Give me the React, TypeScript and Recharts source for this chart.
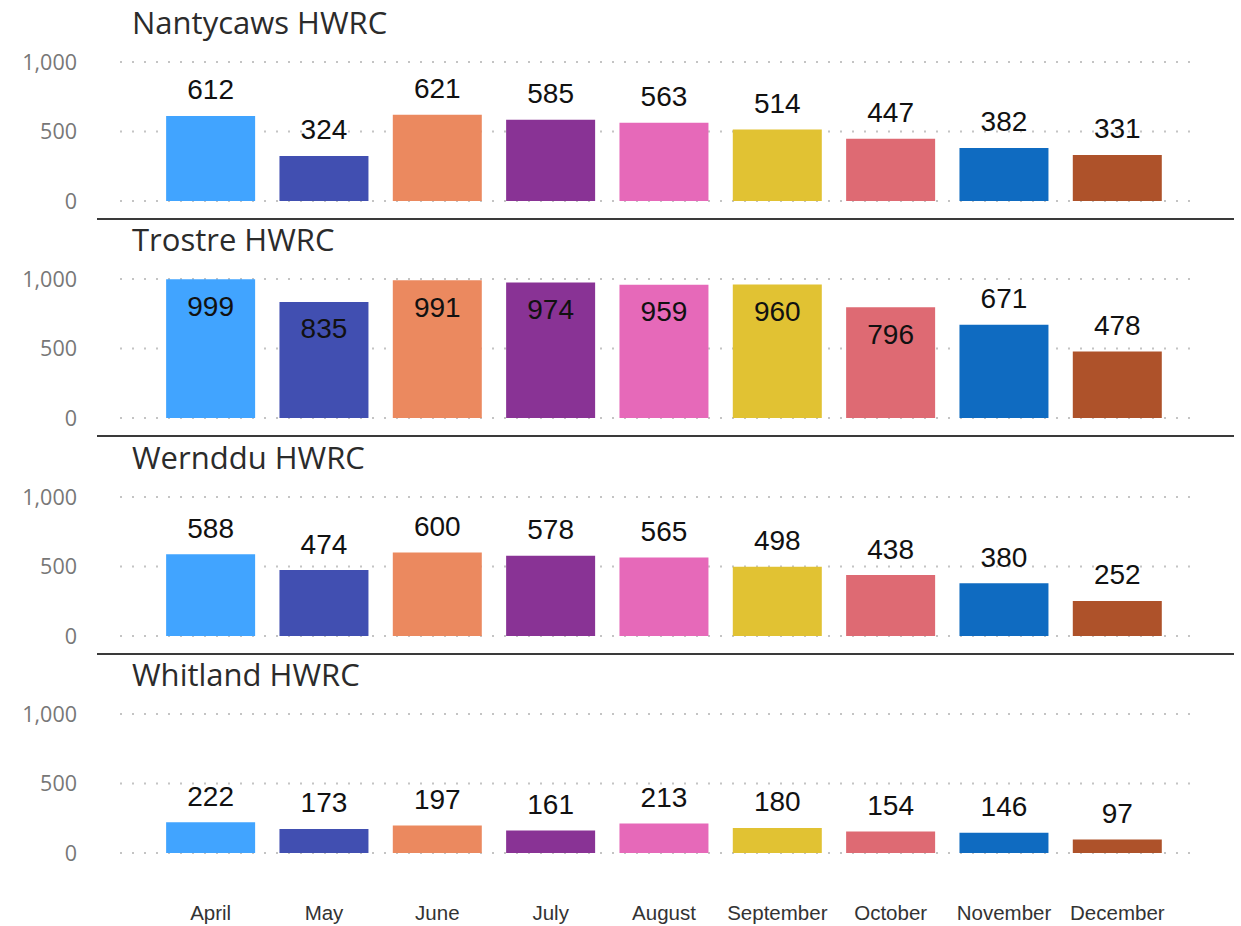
import { BarChart, Bar, XAxis, YAxis, CartesianGrid, Cell, LabelList } from 'recharts'

const months = ['April', 'May', 'June', 'July', 'August', 'September', 'October', 'November', 'December']
const sites = ['Nantycaws HWRC', 'Trostre HWRC', 'Wernddu HWRC', 'Whitland HWRC']
const nantycaws = [612, 324, 621, 585, 563, 514, 447, 382, 331]
const trostre = [999, 835, 991, 974, 959, 960, 796, 671, 478]
const wernddu = [588, 474, 600, 578, 565, 498, 438, 380, 252]
const whitland = [222, 173, 197, 161, 213, 180, 154, 146, 97]
const yTicks = [0, 500, 1000]
const monthColors = ['#41A4FF', '#414FB1', '#EB895F', '#893395', '#E669B9', '#E1C233', '#DE6A73', '#0F6BC1', '#AE522A']

const siteValues = [nantycaws, trostre, wernddu, whitland]

const PITCH = 217.3
const PLOT_TOP = 62
const PLOT_H = 139
const TOP_PAD = 30

function renderLabel(props: any) {
  const { x, y, width, value } = props
  // labels that don't fit above the bar go inside, like Power BI does
  const inside = value > 750
  const cy = inside ? y + 27 : y - 26
  return (
    <text
      x={x + width / 2}
      y={cy}
      textAnchor="middle"
      dominantBaseline="central"
      fontSize={28}
      fill="#111"
      fontFamily="'Liberation Sans', Arial, sans-serif"
    >
      {value}
    </text>
  )
}

function Panel({ index }: { index: number }) {
  const isLast = index === sites.length - 1
  const values = siteValues[index]
  const data = months.map((m, i) => ({ month: m, value: values[i] }))
  const plotTop = PLOT_TOP + index * PITCH
  const axisH = isLast ? 80 : 0
  const bottomPad = isLast ? 0 : 14

  return (
    <>
      <div
        style={{
          position: 'absolute',
          left: 132,
          top: plotTop - 58,
          fontSize: 31,
          lineHeight: '36px',
          color: '#2b2b2b',
          fontFamily: "'Open Sans', sans-serif",
          whiteSpace: 'nowrap',
        }}
      >
        {sites[index]}
      </div>
      <div style={{ position: 'absolute', left: 0, top: plotTop - TOP_PAD }}>
        <BarChart
          width={1241}
          height={TOP_PAD + PLOT_H + axisH + bottomPad}
          data={data}
          margin={{ top: TOP_PAD, right: 41, bottom: bottomPad, left: 0 }}
          barCategoryGap="10.7%"
        >
          <CartesianGrid vertical={false} stroke="#c4c4c4" strokeWidth={2} strokeDasharray="2 10" />
          <XAxis
            dataKey="month"
            hide={!isLast}
            height={axisH}
            axisLine={false}
            tickLine={false}
            tickSize={0}
            tickMargin={52}
            padding={{ left: 34, right: 26 }}
            interval={0}
            tick={{ fontSize: 20.5, fill: '#333', fontFamily: "'Liberation Sans', Arial, sans-serif" }}
          />
          <YAxis
            width={120}
            domain={[0, 1000]}
            ticks={yTicks}
            axisLine={false}
            tickLine={false}
            tickSize={0}
            tickMargin={43}
            tickFormatter={(v: number) => v.toLocaleString('en-US')}
            tick={{ fontSize: 21.5, fill: '#777', fontFamily: "'Open Sans', sans-serif" }}
          />
          <Bar dataKey="value" isAnimationActive={false}>
            {data.map((_, i) => (
              <Cell key={`cell-${i}`} fill={monthColors[i]} />
            ))}
            <LabelList dataKey="value" content={renderLabel} />
          </Bar>
        </BarChart>
      </div>
      {!isLast && (
        <div
          style={{
            position: 'absolute',
            left: 97,
            top: plotTop + PLOT_H + 17,
            width: 1137,
            height: 2,
            background: '#3a3a3a',
          }}
        />
      )}
    </>
  )
}

export default function App() {
  return (
    <div
      style={{
        position: 'absolute',
        left: 0,
        top: 0,
        width: 1241,
        height: 926,
        background: '#fff',
        overflow: 'hidden',
      }}
    >
      {sites.map((s, i) => (
        <Panel key={s} index={i} />
      ))}
    </div>
  )
}
